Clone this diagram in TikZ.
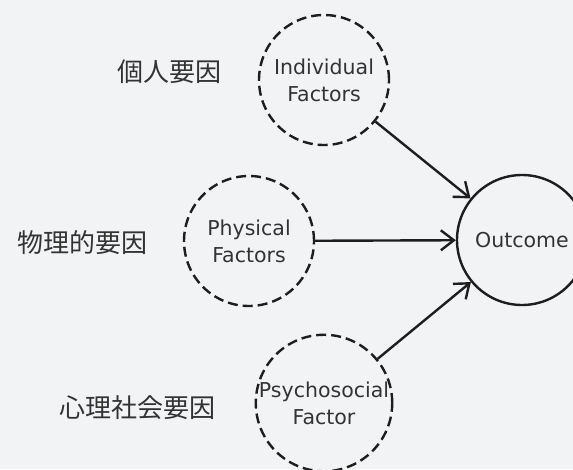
\documentclass[tikz,border=0pt]{standalone}
\usepackage{fontspec}
\setmainfont{DejaVu Sans}
\newfontfamily\jpfont{Noto Sans CJK JP}
\usetikzlibrary{arrows.meta}
\definecolor{bgcol}{HTML}{F2F3F5}
\definecolor{inkcol}{HTML}{1E1E1E}
\definecolor{txtcol}{HTML}{333333}
\tikzset{
  factor/.style={circle, draw=inkcol, line width=2.4pt, dash pattern=on 10pt off 5pt,
    minimum size=130pt, inner sep=0pt, align=center, text=txtcol,
    font=\fontsize{20.5}{27}\selectfont},
  outcomenode/.style={circle, draw=inkcol, line width=2.4pt,
    minimum size=130pt, inner sep=0pt, text=txtcol,
    font=\fontsize{20.5}{27}\selectfont},
  jplabel/.style={text=txtcol, inner sep=0pt, font=\jpfont\fontsize{26}{30}\selectfont},
  link/.style={draw=inkcol, line width=2.4pt,
    -{Straight Barb[length=13pt,width=20pt,line width=2.4pt]}}
}
\begin{document}
\begin{tikzpicture}[x=1pt,y=-1pt]
  \fill[bgcol] (0,0) rectangle (573,469);
  \useasboundingbox (0,0) rectangle (573,469);
  \clip (0,0) rectangle (573,469);

  % factor circles
  \node[factor] (ind) at (324,80) {Individual\\Factors};
  \node[factor] (phy) at (249,241) {Physical\\Factors};
  \node[factor] (psy) at (324,403) {Psychosocial\\Factor};
  \node[outcomenode] (out) at (522,240) {Outcome};

  % Japanese labels
  \node[jplabel] (indjp) at (169,72) {個人要因};
  \node[jplabel] (phyjp) at (82,243) {物理的要因};
  \node[jplabel] (psyjp) at (137,408) {心理社会要因};

  % influences
  \draw[link] (ind) -- (out);
  \draw[link] (phy) -- (out);
  \draw[link] (psy) -- (out);
\end{tikzpicture}
\end{document}
